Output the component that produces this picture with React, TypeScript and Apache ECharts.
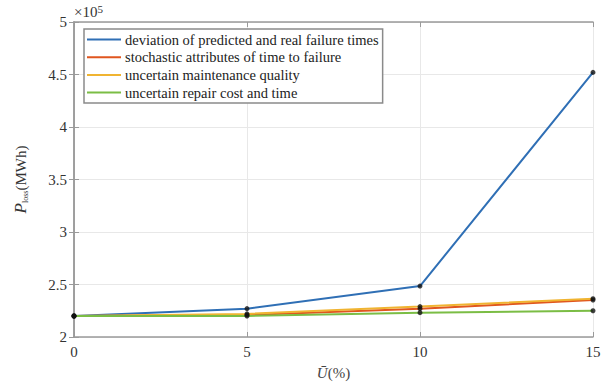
import React, { useEffect, useRef } from "react";
import * as echarts from "echarts";

const xValues = [0, 5, 10, 15];
const seriesNames = [
  "deviation of predicted and real failure times",
  "stochastic attributes of time to failure",
  "uncertain maintenance quality",
  "uncertain repair cost and time",
];
const deviationValues = [2.2, 2.27, 2.485, 4.52];
const stochasticValues = [2.2, 2.21, 2.27, 2.352];
const maintenanceValues = [2.2, 2.22, 2.29, 2.365];
const repairValues = [2.2, 2.2, 2.232, 2.25];
const seriesColors = ["#2f6fb5", "#e0561f", "#f0b431", "#7bbd45"];
const yTicks = [2, 2.5, 3, 3.5, 4, 4.5, 5];
const xTicks = [0, 5, 10, 15];

const FONT = "'Liberation Serif', 'Times New Roman', serif";

export default function App() {
  const ref = useRef<HTMLDivElement>(null);
  useEffect(() => {
    if (!ref.current) return;
    const chart = echarts.init(ref.current, undefined, { renderer: "svg" });
    const allValues = [deviationValues, stochasticValues, maintenanceValues, repairValues];
    const lineSeries = allValues.map((vals, i) => ({
      name: seriesNames[i],
      type: "line",
      data: xValues.map((x, j) => [x, vals[j]]),
      showSymbol: false,
      symbol: "none",
      lineStyle: { color: seriesColors[i], width: 2 },
      itemStyle: { color: seriesColors[i] },
      z: 2 + i,
    }));
    const dotSeries = allValues.map((vals) => ({
      type: "scatter",
      data: xValues.map((x, j) => [x, vals[j]]),
      symbol: "circle",
      symbolSize: 5,
      itemStyle: { color: "#111" },
      z: 10,
      silent: true,
    }));
    const axisCommon = {
      axisLine: { show: true, lineStyle: { color: "#9a9a9a", width: 1.5 } },
      axisTick: { show: true, inside: true, length: 5, lineStyle: { color: "#9a9a9a" } },
    };
    chart.setOption({
      animation: false,
      backgroundColor: "#ffffff",
      textStyle: { fontFamily: FONT },
      grid: { left: 74, right: 18, top: 22, bottom: 45 },
      legend: {
        data: seriesNames,
        orient: "vertical",
        left: 84,
        top: 29,
        icon: "path://M0,0 H34 V2 H0 Z",
        itemWidth: 34,
        itemHeight: 2,
        itemGap: 2.7,
        padding: [3, 4, 3, 3],
        borderColor: "#8a8a8a",
        borderWidth: 1.5,
        backgroundColor: "#ffffff",
        textStyle: { fontFamily: FONT, fontSize: 14.5, color: "#222", lineHeight: 14, padding: [0, 0, 0, -1] },
      },
      xAxis: [
        {
          type: "value",
          min: 0,
          max: 15,
          interval: 5,
          name: "{i|Ū}(%)",
          nameLocation: "middle",
          nameGap: 28,
          nameTextStyle: {
            fontFamily: FONT,
            fontSize: 15,
            color: "#444",
            rich: { i: { fontFamily: FONT, fontStyle: "italic", fontSize: 15, color: "#444" } },
          },
          ...axisCommon,
          axisLabel: {
            fontFamily: FONT,
            fontSize: 15,
            color: "#333",
            margin: 7,
            formatter: (v: number) => (xTicks.includes(v) ? String(v) : ""),
          },
          splitLine: { show: true, lineStyle: { color: "#e8e8e8", width: 1 } },
        },
        {
          type: "value",
          position: "top",
          min: 0,
          max: 15,
          interval: 5,
          ...axisCommon,
          axisLabel: { show: false },
          splitLine: { show: false },
        },
      ],
      yAxis: [
        {
          type: "value",
          min: 2,
          max: 5,
          interval: 0.5,
          name: "{i|P}{s|loss}(MWh)",
          nameLocation: "middle",
          nameRotate: 90,
          nameGap: 45,
          nameTextStyle: {
            fontFamily: FONT,
            fontSize: 15,
            color: "#333",
            rich: {
              i: { fontFamily: FONT, fontStyle: "italic", fontSize: 17, color: "#333" },
              s: { fontFamily: FONT, fontSize: 8, color: "#333", verticalAlign: "bottom", padding: [6, 0, 0, 0] },
            },
          },
          ...axisCommon,
          axisLabel: {
            fontFamily: FONT,
            fontSize: 15,
            color: "#333",
            margin: 7,
            formatter: (v: number) => (yTicks.includes(v) ? String(v) : ""),
          },
          splitLine: { show: true, lineStyle: { color: "#e8e8e8", width: 1 } },
        },
        {
          type: "value",
          position: "right",
          min: 2,
          max: 5,
          interval: 0.5,
          ...axisCommon,
          axisLabel: { show: false },
          splitLine: { show: false },
        },
      ],
      graphic: [
        {
          type: "text",
          left: 74,
          top: 3,
          style: {
            text: "×10{s|5}",
            fontFamily: FONT,
            fontSize: 15,
            fill: "#333",
            rich: { s: { fontFamily: FONT, fontSize: 11, fill: "#333", verticalAlign: "top", padding: [0, 0, 6, 0] } },
          },
        },
      ],
      series: [...lineSeries, ...dotSeries],
    });
    return () => chart.dispose();
  }, []);
  return <div ref={ref} style={{ position: "fixed", left: 0, top: 0, width: 611, height: 385 }} />;
}
